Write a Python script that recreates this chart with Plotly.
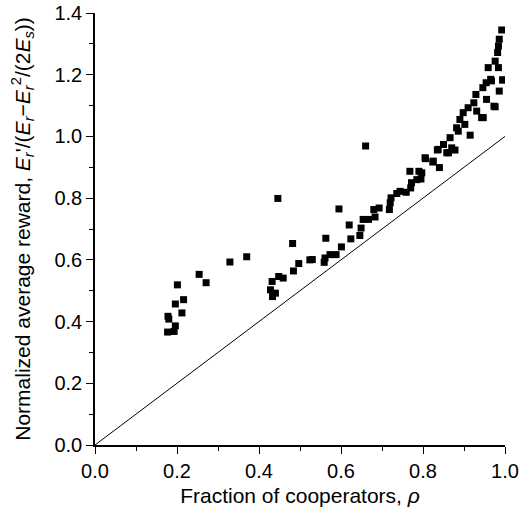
import plotly.graph_objects as go

# Fraction of cooperators (rho) and normalized average reward
rho = [0.201, 0.196, 0.216, 0.212, 0.178, 0.180, 0.196, 0.177, 0.193,
       0.254, 0.271, 0.329, 0.370, 0.446,
       0.432, 0.428, 0.440, 0.433, 0.448, 0.459, 0.482, 0.484, 0.497, 0.524,
       0.530, 0.559, 0.561, 0.573, 0.588, 0.601, 0.563, 0.595, 0.620, 0.624,
       0.646, 0.649, 0.654, 0.667, 0.660, 0.683, 0.680, 0.693, 0.718, 0.720,
       0.722, 0.736, 0.744, 0.759, 0.770, 0.772, 0.785, 0.795, 0.790, 0.768,
       0.797, 0.806, 0.824, 0.840, 0.835, 0.850, 0.858, 0.870, 0.878, 0.866,
       0.886, 0.915, 0.805, 0.825, 0.837, 0.862, 0.882, 0.890, 0.902, 0.898,
       0.910, 0.924, 0.929, 0.931, 0.947, 0.955, 0.976, 0.943, 0.946, 0.954,
       0.965, 0.967, 0.959, 0.976, 0.982, 0.984, 0.986, 0.992, 0.984, 0.996,
       0.986, 0.973, 0.994]
reward = [0.519, 0.457, 0.471, 0.428, 0.417, 0.408, 0.386, 0.366, 0.368,
          0.553, 0.526, 0.593, 0.610, 0.799,
          0.530, 0.503, 0.492, 0.481, 0.546, 0.541, 0.653, 0.564, 0.588, 0.600,
          0.601, 0.592, 0.606, 0.617, 0.617, 0.642, 0.670, 0.765, 0.713, 0.668,
          0.679, 0.703, 0.731, 0.731, 0.969, 0.739, 0.763, 0.768, 0.763, 0.785,
          0.801, 0.815, 0.822, 0.819, 0.833, 0.850, 0.860, 0.862, 0.887, 0.887,
          0.882, 0.928, 0.917, 0.899, 0.956, 0.974, 0.947, 0.963, 0.956, 0.996,
          1.017, 1.004, 0.931, 0.920, 0.958, 0.947, 1.028, 1.055, 1.039, 1.077,
          1.093, 1.109, 1.136, 1.082, 1.061, 1.120, 1.096, 1.061, 1.158, 1.174,
          1.185, 1.180, 1.223, 1.244, 1.272, 1.293, 1.315, 1.345, 1.223, 1.183,
          1.147, 1.098, 1.183]

line_x = [0, 1]
line_y = [0, 1]

x_ticks = [0.0, 0.2, 0.4, 0.6, 0.8, 1.0]
y_ticks = [0.0, 0.2, 0.4, 0.6, 0.8, 1.0, 1.2, 1.4]

fig = go.Figure()
fig.add_trace(go.Scatter(x=line_x, y=line_y, mode="lines",
                         line=dict(color="black", width=1), showlegend=False,
                         hoverinfo="skip"))
fig.add_trace(go.Scatter(x=rho, y=reward, mode="markers",
                         marker=dict(symbol="square", size=7, color="black",
                                     line=dict(width=0)),
                         showlegend=False))

font = "Liberation Sans, Arial, sans-serif"
fig.update_layout(
    width=531, height=517,
    margin=dict(l=95, r=26, t=13, b=72),
    plot_bgcolor="white", paper_bgcolor="white",
    font=dict(family=font, size=20, color="black"),
)
fig.update_xaxes(
    range=[0, 1], tickvals=x_ticks, ticktext=[f"{v:.1f}" for v in x_ticks],
    showline=True, linecolor="black", linewidth=1.5, mirror=False,
    showgrid=False, zeroline=False, automargin=False,
    ticks="outside", ticklen=7, tickwidth=1.2, tickcolor="black",
    minor=dict(dtick=0.1, ticks="outside", ticklen=4, tickwidth=1.2, tickcolor="black", showgrid=False),
    title=dict(text="Fraction of cooperators, <i>ρ</i>", font=dict(size=21), standoff=8),
)
fig.update_yaxes(
    range=[0, 1.4], tickvals=y_ticks, ticktext=[f"{v:.1f}" for v in y_ticks],
    showline=True, linecolor="black", linewidth=1.5, mirror=False,
    showgrid=False, zeroline=False, automargin=False,
    ticks="outside", ticklen=7, tickwidth=1.2, tickcolor="black",
    minor=dict(dtick=0.1, ticks="outside", ticklen=4, tickwidth=1.2, tickcolor="black", showgrid=False),
    title=dict(text="Normalized average reward, <i>E<sub>r</sub></i>'/(<i>E<sub>r</sub></i>−<i>E<sub>r</sub></i><sup>2</sup>/(2<i>E<sub>s</sub></i>))",
               font=dict(size=21), standoff=18),
)

fig.write_html("out.html", config={"displayModeBar": False},
               post_script="document.body.style.margin='0px';")
